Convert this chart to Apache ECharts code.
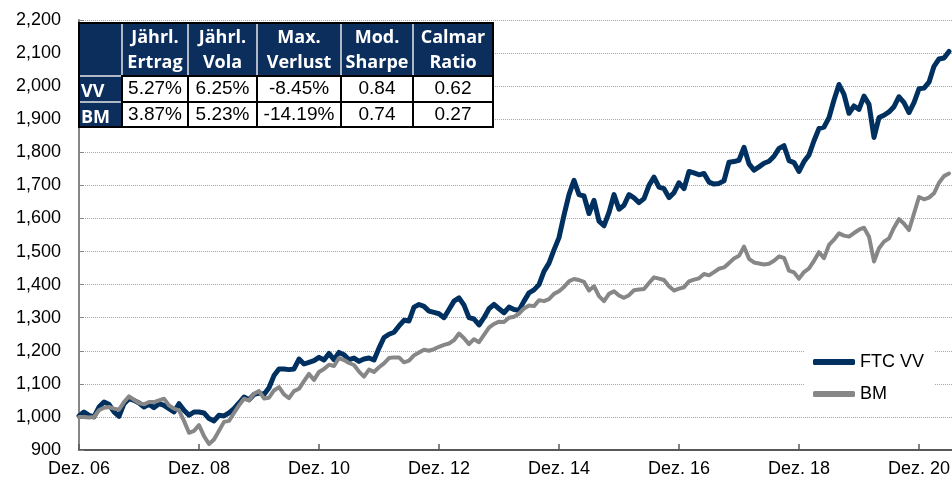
<!DOCTYPE html>
<html><head><meta charset="utf-8">
<script src="https://cdn.jsdelivr.net/npm/echarts@6/dist/echarts.min.js"></script>
<style>html,body{margin:0;padding:0;background:#fff}#c{width:952px;height:481px}</style>
</head><body><div id="c"></div>
<script>
// Monthly index 0 = Dez. 06
const xTickLabels = ['Dez. 06','Dez. 08','Dez. 10','Dez. 12','Dez. 14','Dez. 16','Dez. 18','Dez. 20','Dez. 22'];
const seriesNames = ['FTC VV','BM'];
const ftcVV = [
1003,1015,1005,1000,1030,1045,1038,1015,1002,1040,
1055,1050,1042,1030,1038,1028,1040,1035,1025,1015,
1040,1020,1005,1015,1015,1012,995,988,1005,1003,
1012,1025,1042,1060,1052,1068,1072,1068,1088,1125,
1145,1145,1143,1145,1175,1160,1165,1170,1180,1172,
1192,1173,1195,1188,1173,1178,1168,1175,1178,1172,
1208,1240,1250,1256,1275,1292,1290,1332,1340,1334,
1320,1316,1312,1300,1325,1350,1360,1338,1300,1296,
1278,1300,1327,1340,1327,1315,1332,1325,1322,1350,
1375,1384,1400,1440,1465,1505,1542,1610,1672,1715,
1672,1668,1615,1655,1592,1578,1618,1672,1628,1640,
1672,1662,1648,1660,1700,1725,1695,1690,1663,1678,
1708,1690,1742,1738,1732,1736,1710,1704,1706,1714,
1770,1772,1776,1815,1765,1746,1756,1767,1773,1788,
1812,1820,1775,1769,1742,1772,1792,1835,1872,1876,
1905,1958,2005,1975,1918,1940,1930,1970,1945,1845,
1905,1912,1922,1938,1968,1950,1920,1950,1992,1994,
2012,2060,2082,2085,2105];
const bm = [
1000,1000,998,1000,1020,1028,1030,1025,1022,1045,
1062,1052,1042,1038,1045,1045,1050,1055,1035,1025,
1020,988,952,958,975,942,918,932,958,985,
988,1012,1035,1055,1050,1070,1078,1056,1058,1080,
1090,1068,1057,1078,1085,1108,1130,1112,1136,1145,
1158,1154,1178,1172,1163,1157,1137,1122,1143,1136,
1150,1162,1178,1180,1180,1165,1170,1186,1195,1203,
1200,1205,1212,1218,1222,1232,1252,1238,1220,1235,
1226,1248,1270,1281,1288,1287,1300,1303,1312,1328,
1337,1335,1353,1350,1356,1372,1380,1393,1410,1417,
1414,1408,1382,1395,1365,1350,1372,1380,1367,1360,
1368,1383,1385,1387,1405,1422,1418,1414,1395,1382,
1388,1392,1410,1415,1419,1432,1428,1438,1448,1452,
1465,1479,1487,1515,1478,1467,1464,1461,1463,1472,
1485,1481,1442,1437,1418,1438,1449,1472,1498,1480,
1520,1536,1555,1548,1545,1556,1566,1572,1545,1470,
1510,1530,1540,1572,1598,1584,1565,1615,1665,1658,
1663,1676,1708,1728,1736];
const tableHeader = ['', 'Jährl.\nErtrag', 'Jährl.\nVola', 'Max.\nVerlust', 'Mod.\nSharpe', 'Calmar\nRatio'];
const tableRowLabels = ['VV','BM'];
const tableVV = ['5.27%','6.25%','-8.45%','0.84','0.62'];
const tableBM = ['3.87%','5.23%','-14.19%','0.74','0.27'];
const tableRows = [tableVV, tableBM];

const navy = '#0b2e5d';
const lineNavy = '#00305f';
const grey = '#878787';
const ff = '"Liberation Sans", Arial, sans-serif';
const hf = '"Open Sans", "Noto Sans", sans-serif';

// table graphic
const colX = [79,122,188,257,341,413,493], rowY = [23,76,102,127];
const els = [];
els.push({type:'rect', z:100, shape:{x:colX[0], y:rowY[0], width:colX[6]-colX[0], height:rowY[3]-rowY[0]}, style:{fill:navy, stroke:'#000', lineWidth:2}});
for (let c = 1; c < 6; c++) {
  els.push({type:'line', z:101, shape:{x1:colX[c], y1:rowY[0]+1, x2:colX[c], y2:rowY[1]}, style:{stroke:'#e8e8e8', lineWidth:1.5}});
}
els.push({type:'line', z:101, shape:{x1:colX[0]+1, y1:rowY[1], x2:colX[1], y2:rowY[1]}, style:{stroke:'#e8e8e8', lineWidth:1.5}});
els.push({type:'line', z:101, shape:{x1:colX[0]+1, y1:rowY[2], x2:colX[1], y2:rowY[2]}, style:{stroke:'#e8e8e8', lineWidth:1.5}});
for (let r = 0; r < 2; r++) {
  for (let c = 1; c < 6; c++) {
    els.push({type:'rect', z:102, shape:{x:colX[c], y:rowY[r+1], width:colX[c+1]-colX[c], height:rowY[r+2]-rowY[r+1]}, style:{fill:'#fff', stroke:'#000', lineWidth:2}});
    els.push({type:'text', z:103, x:(colX[c]+colX[c+1])/2, y:(rowY[r+1]+rowY[r+2])/2,
      style:{text:tableRows[r][c-1], fill:'#000', font:'19px ' + ff, textAlign:'center', textVerticalAlign:'middle', align:'center', verticalAlign:'middle'}});
  }
  els.push({type:'text', z:103, x:colX[0]+2, y:(rowY[r+1]+rowY[r+2])/2 + 3,
    style:{text:tableRowLabels[r], fill:'#fff', font:'bold 18px ' + hf, textAlign:'left', textVerticalAlign:'middle', align:'left', verticalAlign:'middle'}});
}
for (let c = 1; c < 6; c++) {
  els.push({type:'text', z:103, x:(colX[c]+colX[c+1])/2, y:(rowY[0]+rowY[1])/2 + 1,
    style:{text:tableHeader[c], fill:'#fff', font:'bold 18px ' + hf, lineHeight:25, textAlign:'center', textVerticalAlign:'middle', align:'center', verticalAlign:'middle'}});
}

const chart = echarts.init(document.getElementById('c'), null, {renderer:'canvas'});
chart.setOption({
  animation: false,
  backgroundColor: '#fff',
  grid: {left: 79, top: 20, width: 900, height: 430, containLabel: false, outerBoundsMode: 'none'},
  xAxis: {
    type: 'value', min: 0, max: 180, interval: 24,
    axisLine: {show: true, lineStyle: {color: '#595959', width: 2}},
    axisTick: {show: true, inside: true, length: 6, lineStyle: {color: '#595959', width: 1.5}},
    splitLine: {show: false},
    axisLabel: {show: true, showMaxLabel: false, margin: 10, color: '#000', fontSize: 18, fontFamily: ff,
      formatter: v => xTickLabels[Math.round(v / 24)] || ''}
  },
  yAxis: {
    type: 'value', min: 900, max: 2200, interval: 100,
    axisLine: {show: true, lineStyle: {color: '#868686', width: 2}},
    axisTick: {show: true, inside: true, length: 5, lineStyle: {color: '#868686', width: 1}},
    splitLine: {show: true, lineStyle: {color: '#a6a6a6', type: 'dotted', width: 1}},
    axisLabel: {margin: 18, color: '#000', fontSize: 18, fontFamily: ff,
      formatter: v => v.toLocaleString('en-US')}
  },
  legend: {
    orient: 'vertical', left: 804, top: 345, padding: [8, 10, 8, 9],
    backgroundColor: '#fff', itemWidth: 42, itemHeight: 6, itemGap: 14,
    icon: 'roundRect',
    textStyle: {fontSize: 18, fontFamily: ff, color: '#000', lineHeight: 17},
    data: seriesNames
  },
  graphic: els,
  series: [
    {name: seriesNames[0], type: 'line', data: ftcVV.map((v, i) => [i, v]), showSymbol: false, symbol: 'none',
      lineStyle: {color: lineNavy, width: 5, join: 'round', cap: 'round'}, itemStyle: {color: lineNavy}, z: 2},
    {name: seriesNames[1], type: 'line', data: bm.map((v, i) => [i, v]), showSymbol: false, symbol: 'none',
      lineStyle: {color: grey, width: 4, join: 'round', cap: 'round'}, itemStyle: {color: grey}, z: 3}
  ]
});
</script>
</body></html>
